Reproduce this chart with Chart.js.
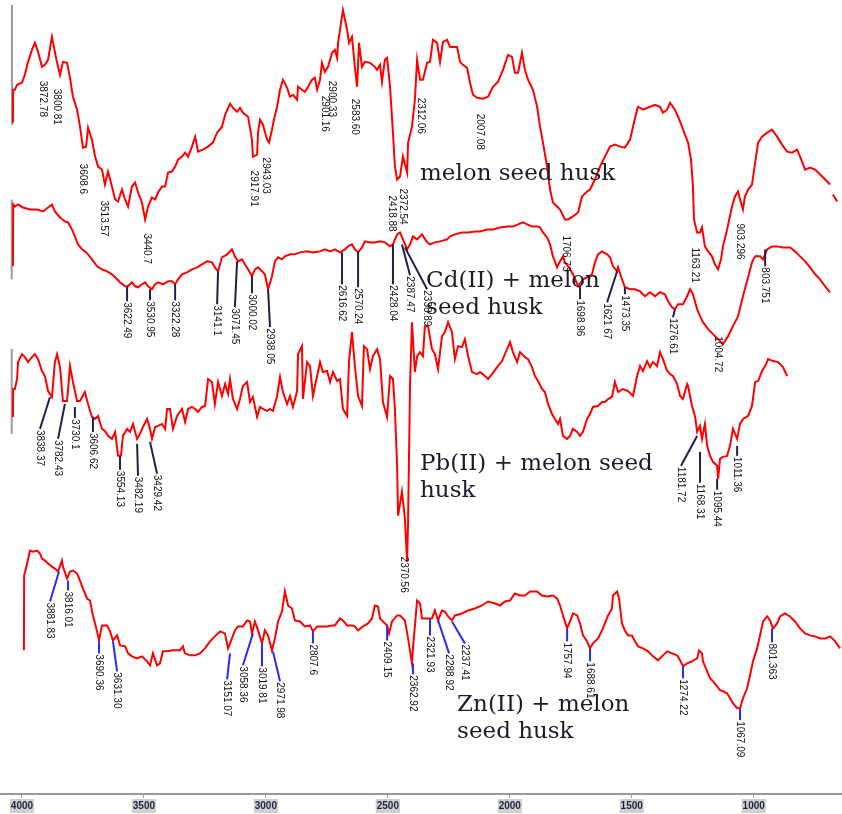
<!DOCTYPE html>
<html>
<head>
<meta charset="utf-8">
<script src="https://cdn.jsdelivr.net/npm/chart.js@4.4.0/dist/chart.umd.min.js"></script>
<style>
  html, body { margin: 0; padding: 0; background: #fff; }
  #wrap { width: 842px; height: 814px; }
</style>
</head>
<body>
<div id="wrap"><canvas id="ftir" width="842" height="814"></canvas></div>
<script>
// x axis ticks (wavenumber, cm-1)
const tickValues = [4000, 3500, 3000, 2500, 2000, 1500, 1000];
const tickLabels = ['4000', '3500', '3000', '2500', '2000', '1500', '1000'];

// spectra: [wavenumber, transmittance (stacked, a.u.)]
const melonHusk = [
  [4037,677],[4036,710],[4029,710],[4020,715],[4000,717],[3988,725],[3975,738],[3959,750],[3947,757],[3934,748],
  [3918,733],[3906,735],[3893,740],[3877,763],[3873,758],[3856,737],[3844,725],[3832,738],[3815,737],[3803,722],
  [3791,703],[3774,690],[3762,673],[3750,652],[3737,653],[3729,672],[3713,660],[3700,643],[3688,633],[3672,630],
  [3660,615],[3647,628],[3631,613],[3618,600],[3606,598],[3590,610],[3577,600],[3565,593],[3549,613],[3536,617],
  [3524,607],[3508,597],[3495,580],[3483,593],[3467,602],[3454,600],[3442,607],[3426,613],[3413,613],[3401,627],
  [3385,628],[3372,633],[3360,640],[3344,643],[3331,647],[3319,643],[3303,653],[3290,663],[3278,648],[3258,650],
  [3237,653],[3217,657],[3200,667],[3180,673],[3167,685],[3147,696],[3135,692],[3118,688],[3106,692],[3094,687],
  [3073,683],[3057,660],[3053,643],[3036,645],[3032,667],[3024,680],[3012,675],[2995,660],[2987,657],[2975,670],
  [2967,680],[2954,693],[2942,710],[2930,720],[2913,712],[2901,703],[2889,705],[2872,700],[2868,713],[2852,710],
  [2840,708],[2827,713],[2811,720],[2799,722],[2790,710],[2778,720],[2770,737],[2758,728],[2745,733],[2729,747],
  [2717,750],[2708,742],[2704,757],[2696,770],[2684,790],[2667,770],[2659,757],[2647,763],[2635,733],[2626,713],
  [2618,757],[2606,733],[2594,738],[2573,737],[2553,733],[2544,730],[2532,735],[2524,718],[2512,740],[2503,742],
  [2491,713],[2479,667],[2471,633],[2462,620],[2450,623],[2438,643],[2421,627],[2417,657],[2401,673],[2389,700],
  [2380,740],[2368,720],[2356,720],[2339,737],[2327,738],[2315,760],[2298,757],[2286,738],[2274,758],[2257,760],
  [2245,753],[2216,753],[2204,738],[2192,735],[2175,732],[2163,717],[2151,705],[2134,702],[2110,701],[2089,703],
  [2069,713],[2048,718],[2028,730],[2007,745],[1991,743],[1979,727],[1966,727],[1950,747],[1938,730],[1925,720],
  [1905,710],[1888,693],[1876,673],[1864,657],[1847,633],[1835,610],[1823,597],[1806,593],[1794,590],[1774,580],
  [1761,580],[1741,583],[1720,587],[1704,603],[1683,608],[1671,610],[1651,620],[1630,633],[1610,643],[1589,653],
  [1569,655],[1548,653],[1528,652],[1507,660],[1495,673],[1478,690],[1474,693],[1454,690],[1425,693],[1405,695],
  [1384,693],[1372,687],[1355,690],[1343,697],[1323,690],[1310,683],[1294,673],[1282,665],[1269,657],[1257,640],
  [1249,613],[1245,580],[1232,567],[1220,567],[1212,572],[1200,553],[1187,548],[1171,543],[1159,535],[1146,530],
  [1134,540],[1126,553],[1109,570],[1089,593],[1077,603],[1064,608],[1056,600],[1044,590],[1036,603],[1023,610],
  [1007,615],[994,637],[982,657],[966,663],[945,667],[925,670],[904,663],[884,655],[863,648],[843,647],
  [822,650],[810,643],[789,630],[769,632],[748,630],[728,625],[707,620],[687,615],[681,null],[675,605],[658,598]
];

const cdHusk = [
  [4037,533],[4036,595],[4029,593],[4016,595],[3996,592],[3967,590],[3938,590],[3914,588],[3893,592],[3877,595],
  [3865,588],[3844,582],[3824,578],[3811,577],[3795,570],[3783,563],[3770,555],[3754,550],[3742,548],[3729,545],
  [3713,540],[3692,533],[3672,530],[3651,528],[3631,525],[3618,522],[3598,517],[3577,513],[3565,513],[3549,517],
  [3536,513],[3524,512],[3508,515],[3495,517],[3483,513],[3467,510],[3454,515],[3442,517],[3422,515],[3401,518],
  [3385,518],[3372,515],[3360,520],[3344,525],[3323,527],[3303,530],[3282,532],[3262,535],[3241,538],[3221,537],
  [3209,532],[3196,528],[3180,542],[3159,545],[3139,550],[3127,543],[3114,538],[3098,540],[3086,535],[3073,530],
  [3057,523],[3045,530],[3032,532],[3016,528],[3004,525],[2991,510],[2975,523],[2963,538],[2950,542],[2934,540],
  [2922,543],[2901,545],[2881,545],[2860,547],[2831,548],[2807,547],[2778,548],[2758,550],[2737,548],[2717,550],
  [2696,547],[2676,550],[2663,553],[2647,555],[2635,550],[2622,547],[2606,552],[2594,558],[2573,557],[2553,557],
  [2532,558],[2512,557],[2491,553],[2479,555],[2462,565],[2450,567],[2438,560],[2421,550],[2409,555],[2397,563],
  [2380,560],[2360,565],[2339,557],[2327,555],[2307,557],[2286,558],[2257,560],[2245,563],[2225,565],[2196,567],
  [2171,567],[2143,568],[2122,568],[2093,570],[2069,570],[2040,572],[2011,573],[1987,573],[1966,575],[1946,577],
  [1929,575],[1909,573],[1888,573],[1876,572],[1864,567],[1847,562],[1835,555],[1823,543],[1806,532],[1794,538],
  [1782,543],[1774,537],[1761,533],[1741,525],[1720,513],[1700,520],[1683,522],[1663,525],[1651,537],[1638,545],
  [1622,548],[1601,545],[1589,542],[1577,533],[1560,528],[1556,532],[1540,520],[1528,512],[1507,510],[1487,510],
  [1466,508],[1446,503],[1425,507],[1405,503],[1384,507],[1364,505],[1351,498],[1335,492],[1323,490],[1310,495],
  [1290,495],[1273,503],[1261,510],[1249,505],[1232,490],[1220,483],[1208,477],[1187,470],[1167,465],[1146,460],
  [1126,455],[1105,463],[1085,473],[1064,483],[1044,503],[1023,522],[1007,537],[994,543],[974,543],[962,540],
  [945,550],[925,553],[904,553],[880,552],[851,552],[831,548],[810,543],[789,538],[769,532],[748,525],
  [728,520],[707,513],[687,507]
];

const pbHusk = [
  [4037,382],[4036,410],[4029,410],[4020,420],[4016,437],[4000,445],[3988,442],[3975,437],[3959,442],[3947,445],
  [3934,440],[3918,428],[3906,423],[3893,408],[3877,402],[3865,437],[3856,445],[3844,432],[3832,398],[3815,398],
  [3803,433],[3791,417],[3774,398],[3762,398],[3742,407],[3729,395],[3713,382],[3700,380],[3688,383],[3672,370],
  [3660,368],[3647,363],[3631,360],[3618,367],[3606,343],[3594,343],[3586,363],[3569,370],[3557,367],[3545,375],
  [3528,360],[3516,365],[3504,372],[3487,380],[3475,370],[3467,360],[3454,372],[3442,373],[3426,375],[3413,370],
  [3405,390],[3393,390],[3381,370],[3364,383],[3344,390],[3331,377],[3319,390],[3303,392],[3290,390],[3278,387],
  [3262,392],[3249,393],[3237,420],[3221,417],[3209,395],[3196,417],[3180,403],[3167,415],[3155,405],[3147,420],
  [3135,400],[3118,390],[3106,400],[3094,413],[3077,417],[3065,397],[3053,402],[3036,382],[3024,392],[3012,390],
  [2995,388],[2983,390],[2971,388],[2954,403],[2942,422],[2930,407],[2913,395],[2901,403],[2889,392],[2872,408],
  [2868,445],[2852,453],[2848,400],[2831,437],[2819,433],[2807,403],[2790,423],[2778,437],[2766,427],[2749,428],
  [2737,417],[2725,427],[2708,418],[2696,420],[2684,390],[2667,383],[2659,438],[2647,467],[2635,433],[2622,403],
  [2606,393],[2598,453],[2585,450],[2573,430],[2561,443],[2544,450],[2532,440],[2520,397],[2503,382],[2491,423],
  [2479,420],[2471,390],[2462,333],[2458,283],[2442,307],[2430,280],[2421,237],[2417,277],[2409,413],[2401,477],
  [2389,427],[2380,443],[2368,447],[2356,443],[2348,473],[2335,473],[2319,450],[2307,445],[2294,430],[2278,463],
  [2266,467],[2253,477],[2237,467],[2225,440],[2212,453],[2196,452],[2184,460],[2171,443],[2155,427],[2134,425],
  [2122,427],[2102,423],[2089,420],[2073,425],[2052,432],[2032,438],[2011,450],[1999,457],[1987,447],[1970,437],
  [1958,447],[1938,442],[1925,440],[1909,432],[1897,423],[1884,418],[1868,410],[1856,407],[1843,395],[1827,385],
  [1815,380],[1802,375],[1794,380],[1782,363],[1765,360],[1753,363],[1741,370],[1724,367],[1712,363],[1700,367],
  [1683,380],[1671,385],[1659,392],[1638,393],[1622,397],[1610,397],[1597,400],[1581,402],[1569,417],[1556,407],
  [1536,410],[1515,408],[1495,403],[1478,423],[1466,433],[1454,428],[1437,438],[1425,432],[1413,437],[1396,433],
  [1384,447],[1372,440],[1355,428],[1343,425],[1331,423],[1314,415],[1302,403],[1290,400],[1273,415],[1269,413],
  [1253,393],[1240,382],[1232,367],[1220,373],[1212,360],[1200,375],[1191,353],[1179,343],[1167,337],[1150,333],
  [1146,320],[1138,340],[1126,342],[1109,343],[1097,353],[1085,370],[1068,360],[1056,375],[1044,380],[1023,383],
  [1007,393],[994,417],[982,418],[966,428],[953,433],[941,440],[921,438],[900,437],[880,432],[863,423]
];

const znHusk = [
  [3992,148],[3991,223],[3979,235],[3967,248],[3955,247],[3938,248],[3926,245],[3918,240],[3906,238],[3893,235],
  [3877,232],[3865,230],[3852,227],[3836,238],[3832,232],[3815,220],[3803,227],[3791,228],[3774,225],[3762,218],
  [3750,210],[3733,200],[3721,198],[3709,183],[3692,167],[3684,158],[3672,173],[3651,173],[3639,167],[3627,158],
  [3610,163],[3598,153],[3577,152],[3565,145],[3549,142],[3528,140],[3508,142],[3487,137],[3475,133],[3463,145],
  [3446,133],[3434,135],[3422,147],[3405,147],[3381,148],[3352,148],[3340,152],[3332,145],[3311,143],[3290,143],
  [3270,145],[3250,150],[3229,157],[3209,162],[3188,167],[3168,165],[3155,150],[3139,160],[3127,168],[3114,172],
  [3094,172],[3077,178],[3065,177],[3057,165],[3045,177],[3032,168],[3016,155],[3004,168],[2991,163],[2975,148],
  [2963,160],[2950,177],[2934,187],[2922,207],[2909,193],[2893,190],[2881,178],[2860,177],[2840,172],[2819,173],
  [2807,167],[2790,172],[2770,172],[2749,172],[2729,173],[2717,173],[2696,180],[2684,178],[2667,173],[2647,173],
  [2635,172],[2622,168],[2602,172],[2581,175],[2565,180],[2553,193],[2540,192],[2532,180],[2520,177],[2503,173],
  [2495,165],[2483,177],[2462,183],[2450,183],[2430,178],[2417,160],[2401,135],[2397,150],[2380,198],[2368,195],
  [2360,180],[2339,180],[2319,180],[2307,188],[2294,178],[2278,188],[2266,187],[2253,182],[2237,178],[2225,183],
  [2196,185],[2171,188],[2143,190],[2114,193],[2089,197],[2060,195],[2040,193],[2020,197],[1999,198],[1979,205],
  [1958,203],[1938,203],[1917,207],[1888,207],[1868,203],[1847,202],[1823,203],[1806,200],[1794,193],[1782,183],
  [1765,170],[1753,177],[1741,185],[1724,183],[1712,175],[1700,163],[1683,157],[1671,150],[1659,155],[1638,160],
  [1618,170],[1597,183],[1581,190],[1577,203],[1560,207],[1552,200],[1540,175],[1528,168],[1515,163],[1499,163],
  [1487,157],[1474,152],[1454,150],[1433,147],[1413,142],[1392,138],[1376,142],[1355,147],[1335,145],[1314,143],
  [1302,138],[1290,132],[1273,135],[1253,137],[1232,140],[1224,148],[1212,145],[1208,137],[1191,127],[1179,120],
  [1167,117],[1150,112],[1138,108],[1126,107],[1109,105],[1097,100],[1085,95],[1068,90],[1056,90],[1044,100],
  [1027,110],[1015,123],[1003,137],[986,150],[974,163],[962,177],[945,182],[933,178],[921,170],[904,175],
  [892,182],[872,185],[851,182],[831,177],[810,170],[789,165],[769,163],[748,162],[728,160],[707,160],
  [687,162],[666,157],[646,150]
];

// grey start-of-trace markers on the left edge
const edgeMarks = [[4041,795],[4041,675],[4041,null],[4042,600],[4042,520],[4042,null],[4042,450],[4042,365]];

// peak labels: [text, wavenumber, T]  (no leader)
const melonPeaks = [
  ['3872.78',3914,720],['3800.81',3856,712],['3608.6',3750,637],['3513.57',3664,600],['3440.7',3487,567],
  ['2917.91',3049,630],['2943.03',2999,643],['2901.16',2758,705],['2900.33',2729,720],['2583.60',2635,702],
  ['2418.88',2483,605],['2372.54',2438,612],['2312.06',2364,703],['2007.08',2122,687],['1706.73',1769,565],
  ['1163.21',1240,553],['903.296',1056,577]
];

// peak labels with leaders: [text, peak wn, peak T, label wn, label T]
const cdPeaks = [
  ['3622.49',3569,513,3569,498],['3530.95',3475,510,3475,499],['3322.28',3372,515,3372,499],
  ['3141.1',3196,528,3200,495],['3071.45',3118,538,3127,492],['3000.02',3057,523,3057,506],
  ['2938.05',2991,510,2983,472],['2616.62',2688,547,2688,515],['2570.24',2622,548,2622,512],
  ['2428.04',2479,555,2479,515],['2387.47',2442,555,2409,524],['2338.89',2430,552,2339,510],
  ['1698.96',1712,513,1712,500],['1621.67',1560,528,1601,497],['1473.35',1528,512,1528,505],
  ['1276.61',1323,490,1331,482],['1004.72',1146,464,1146,464],['803.751',953,550,953,533]
];

const pbPeaks = [
  ['3838.37',3885,402,3926,370],['3782.43',3824,395,3852,360],['3730.1',3783,392,3783,381],
  ['3606.62',3709,382,3709,367],['3554.13',3598,343,3598,329],['3482.19',3528,355,3524,323],
  ['3429.42',3475,357,3446,325],['2370.56',2434,243,2434,243],['1181.72',1232,363,1298,333],
  ['1168.31',1220,347,1220,316],['1095.44',1150,320,1150,309],['1011.36',1068,353,1068,343]
];

const znPeaks = [
  ['3881.83',3848,227,3885,197],['3816.01',3811,218,3811,208],['3690.36',3684,157,3684,145],
  ['3631.30',3627,157,3610,127],['3151.07',3147,145,3159,119],['3058.36',3053,165,3094,133],
  ['3019.81',3016,155,3016,132],['2971.98',2971,147,2942,117],['2807.6',2807,167,2807,155],
  ['2409.15',2503,173,2503,158],['2362.92',2397,135,2397,124],['2321.93',2327,180,2327,163],
  ['2288.92',2294,178,2249,145],['2237.41',2237,177,2184,155],['1757.94',1765,170,1765,157],
  ['1688.61',1671,150,1671,137],['1274.22',1290,132,1290,120],['1067.09',1056,90,1056,78],
  ['801.363',925,170,925,156]
];

// sample names: [lines, left wn, first baseline T]
const captions = [
  [['melon seed husk'], 2368, 620],
  [['Cd(II) + melon', 'seed husk'], 2343, 512],
  [['Pb(II) + melon seed', 'husk'], 2368, 329],
  [['Zn(II) + melon', 'seed husk'], 2216, 87]
];

const annotate = {
  id: 'annotate',
  afterDatasetsDraw(chart) {
    const { ctx, scales: { x, y } } = chart;

    function drawPeaks(list, leaderColor) {
      list.forEach(p => {
        const text = p[0];
        const px0 = x.getPixelForValue(p[1]), py0 = y.getPixelForValue(p[2]);
        const px1 = p.length > 3 ? x.getPixelForValue(p[3]) : px0;
        const py1 = p.length > 3 ? y.getPixelForValue(p[4]) : py0;
        if (leaderColor && (px0 !== px1 || py0 !== py1)) {
          ctx.save();
          ctx.strokeStyle = leaderColor;
          ctx.lineWidth = 2;
          ctx.beginPath();
          ctx.moveTo(px0, py0);
          ctx.lineTo(px1, py1);
          ctx.stroke();
          ctx.restore();
        }
        ctx.save();
        ctx.translate(px1, py1 + 1);
        ctx.rotate(Math.PI / 2);
        ctx.font = '10px "Liberation Sans", Arial, sans-serif';
        ctx.fillStyle = '#111118';
        ctx.textAlign = 'left';
        ctx.textBaseline = 'middle';
        ctx.fillText(text, 0, 0);
        ctx.restore();
      });
    }

    drawPeaks(melonPeaks, null);
    drawPeaks(cdPeaks, '#20204e');
    drawPeaks(pbPeaks, '#20204e');
    drawPeaks(znPeaks, '#2b2bf0');

    ctx.save();
    ctx.font = '23px "DejaVu Serif", serif';
    ctx.fillStyle = '#1c1c26';
    ctx.textAlign = 'left';
    ctx.textBaseline = 'alphabetic';
    captions.forEach(([lines, wn, t]) => {
      const cx = x.getPixelForValue(wn), cy = y.getPixelForValue(t);
      lines.forEach((line, i) => ctx.fillText(line, cx, cy + i * 27));
    });
    ctx.restore();
  }
};

const traceStyle = { borderColor: '#ff0000', borderWidth: 2, pointRadius: 0, tension: 0, fill: false, spanGaps: false };

new Chart(document.getElementById('ftir').getContext('2d'), {
  type: 'line',
  data: {
    datasets: [
      Object.assign({ label: 'melon seed husk', data: melonHusk }, traceStyle),
      Object.assign({ label: 'Cd(II) + melon seed husk', data: cdHusk }, traceStyle),
      Object.assign({ label: 'Pb(II) + melon seed husk', data: pbHusk }, traceStyle),
      Object.assign({ label: 'Zn(II) + melon seed husk', data: znHusk }, traceStyle),
      { label: 'edge', data: edgeMarks, borderColor: '#9c9c9c', borderWidth: 2, pointRadius: 0, spanGaps: false }
    ]
  },
  options: {
    responsive: false,
    animation: false,
    devicePixelRatio: 1,
    layout: { padding: 0 },
    plugins: { legend: { display: false }, tooltip: { enabled: false } },
    scales: {
      x: {
        type: 'linear',
        reverse: true,
        min: 638,
        max: 4090,
        afterBuildTicks: axis => { axis.ticks = tickValues.map(v => ({ value: v })); },
        ticks: {
          callback: v => tickLabels[tickValues.indexOf(v)],
          font: { size: 10, weight: 'bold', family: '"Liberation Sans", Arial, sans-serif', lineHeight: 1.2 },
          color: '#1e2340',
          padding: 2,
          maxRotation: 0,
          autoSkip: false,
          showLabelBackdrop: true,
          backdropColor: '#d0d0d0',
          backdropPadding: 1
        },
        grid: { drawOnChartArea: false, drawTicks: true, tickLength: 4, color: '#a0a0a0' },
        border: { display: true, color: '#9a9a9a', width: 2 }
      },
      y: { display: false, min: 4, max: 800 }
    }
  },
  plugins: [annotate]
});
</script>
</body>
</html>
